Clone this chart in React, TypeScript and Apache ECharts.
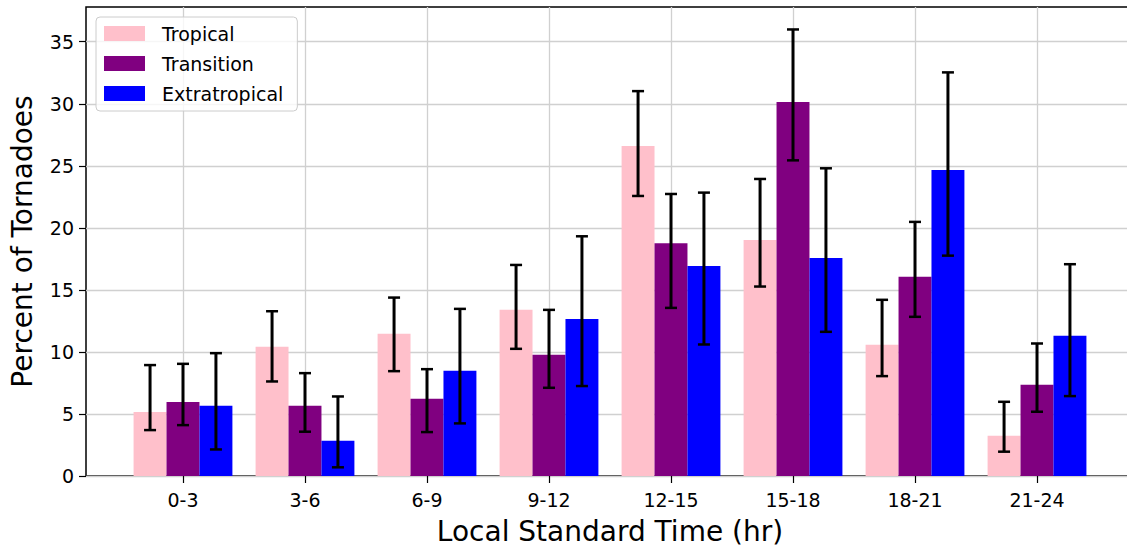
import React, { useEffect, useRef } from "react";
import * as echarts from "echarts";

const categories = ["0-3", "3-6", "6-9", "9-12", "12-15", "15-18", "18-21", "21-24"];
const seriesNames = ["Tropical", "Transition", "Extratropical"];
const seriesColors = ["#ffc0cb", "#800080", "#0000ff"];

const tropical = [5.15, 10.41, 11.46, 13.39, 26.59, 19.03, 10.57, 3.24];
const tropicalLow = [3.7, 7.62, 8.45, 10.25, 22.57, 15.27, 8.05, 1.96];
const tropicalHigh = [8.94, 13.28, 14.38, 17.01, 31.02, 23.94, 14.2, 5.98];

const transition = [5.96, 5.66, 6.22, 9.77, 18.76, 30.14, 16.05, 7.35];
const transitionLow = [4.1, 3.57, 3.54, 7.11, 13.55, 25.44, 12.83, 5.18];
const transitionHigh = [9.04, 8.29, 8.61, 13.39, 22.73, 35.99, 20.48, 10.68];

const extratropical = [5.66, 2.84, 8.48, 12.66, 16.93, 17.58, 24.66, 11.3];
const extratropicalLow = [2.14, 0.7, 4.24, 7.25, 10.6, 11.62, 17.76, 6.44];
const extratropicalHigh = [9.9, 6.41, 13.47, 19.32, 22.84, 24.8, 32.53, 17.07];

const yTicks = [0, 5, 10, 15, 20, 25, 30, 35];

const FONT = "DejaVu Sans";
const BAR_W = 0.27;

export default function App() {
  const ref = useRef<HTMLDivElement>(null);

  useEffect(() => {
    if (!ref.current) return;
    const chart = echarts.init(ref.current, undefined, { renderer: "svg" });

    const values = [tropical, transition, extratropical];
    const lows = [tropicalLow, transitionLow, extratropicalLow];
    const highs = [tropicalHigh, transitionHigh, extratropicalHigh];
    const offsets = [-BAR_W, 0, BAR_W];

    const barSeries = values.map((vals, s) => ({
      type: "custom",
      name: seriesNames[s],
      itemStyle: { color: seriesColors[s] },
      z: 2,
      data: vals.map((v, i) => [i, v]),
      renderItem: (params: any, api: any) => {
        const x = api.value(0) + offsets[s];
        const v = api.value(1);
        const p0 = api.coord([x - BAR_W / 2, v]);
        const p1 = api.coord([x + BAR_W / 2, 0]);
        return {
          type: "rect",
          shape: { x: p0[0], y: p0[1], width: p1[0] - p0[0], height: p1[1] - p0[1] },
          style: { fill: seriesColors[s] },
        };
      },
    }));

    const errData: number[][] = [];
    values.forEach((vals, s) => {
      vals.forEach((_v, i) => {
        errData.push([i + offsets[s], lows[s][i], highs[s][i]]);
      });
    });

    const errSeries = {
      type: "custom",
      name: "err",
      z: 5,
      data: errData,
      renderItem: (params: any, api: any) => {
        const x = api.value(0);
        const lo = api.coord([x, api.value(1)]);
        const hi = api.coord([x, api.value(2)]);
        const cap = 6;
        return {
          type: "group",
          children: [
            { type: "line", shape: { x1: lo[0], y1: lo[1], x2: hi[0], y2: hi[1] }, style: { stroke: "#000", lineWidth: 3 } },
            { type: "line", shape: { x1: lo[0] - cap, y1: lo[1], x2: lo[0] + cap, y2: lo[1] }, style: { stroke: "#000", lineWidth: 2.5 } },
            { type: "line", shape: { x1: hi[0] - cap, y1: hi[1], x2: hi[0] + cap, y2: hi[1] }, style: { stroke: "#000", lineWidth: 2.5 } },
          ],
        };
      },
    };

    chart.setOption({
      animation: false,
      textStyle: { fontFamily: FONT },
      grid: {
        left: 86,
        top: 7,
        right: -7,
        bottom: 70,
        outerBoundsMode: "none",
        containLabel: false,
        show: true,
        borderColor: "#000",
        borderWidth: 1.5,
        backgroundColor: "transparent",
      },
      legend: {
        orient: "vertical",
        left: 96,
        top: 17,
        padding: [7, 14, 8, 8],
        itemWidth: 41,
        itemHeight: 15,
        itemGap: 11,
        borderColor: "#cccccc",
        borderWidth: 1,
        borderRadius: 4,
        backgroundColor: "rgba(255,255,255,0.8)",
        data: seriesNames.map((n, i) => ({ name: n, icon: "rect", itemStyle: { color: seriesColors[i] } })),
        textStyle: { fontFamily: FONT, fontSize: 19, color: "#000", padding: [0, 0, 0, 12] },
      },
      xAxis: {
        type: "value",
        min: -0.795,
        max: 7.795,
        name: "Local Standard Time (hr)",
        nameLocation: "middle",
        nameGap: 41,
        nameTextStyle: { fontFamily: FONT, fontSize: 28, color: "#000" },
        axisLine: { show: false, onZero: false },
        axisTick: {
          show: true,
          length: 7,
          lineStyle: { color: "#000", width: 1.2 },
          customValues: categories.map((_c, i) => i),
        },
        axisLabel: {
          customValues: categories.map((_c, i) => i),
          formatter: (v: number) => categories[Math.round(v)] ?? "",
          fontFamily: FONT,
          fontSize: 19,
          color: "#000",
          margin: 14,
        },
        splitLine: { show: true, lineStyle: { color: "#d0d0d0", width: 1.3 } },
      },
      yAxis: {
        type: "value",
        min: 0,
        max: 37.8,
        name: "Percent of Tornadoes",
        nameLocation: "middle",
        nameGap: 50,
        nameTextStyle: { fontFamily: FONT, fontSize: 28, color: "#000" },
        axisLine: { show: false, onZero: false },
        axisTick: {
          show: true,
          length: 7,
          lineStyle: { color: "#000", width: 1.2 },
          customValues: yTicks,
        },
        axisLabel: {
          customValues: yTicks,
          fontFamily: FONT,
          fontSize: 19,
          color: "#000",
          margin: 12,
        },
        splitLine: { show: true, lineStyle: { color: "#d0d0d0", width: 1.3 } },
      },
      series: [...barSeries, errSeries],
    });

    return () => chart.dispose();
  }, []);

  return (
    <div
      ref={ref}
      style={{ position: "absolute", left: 0, top: 0, width: 1127, height: 546, background: "#fff" }}
    />
  );
}
